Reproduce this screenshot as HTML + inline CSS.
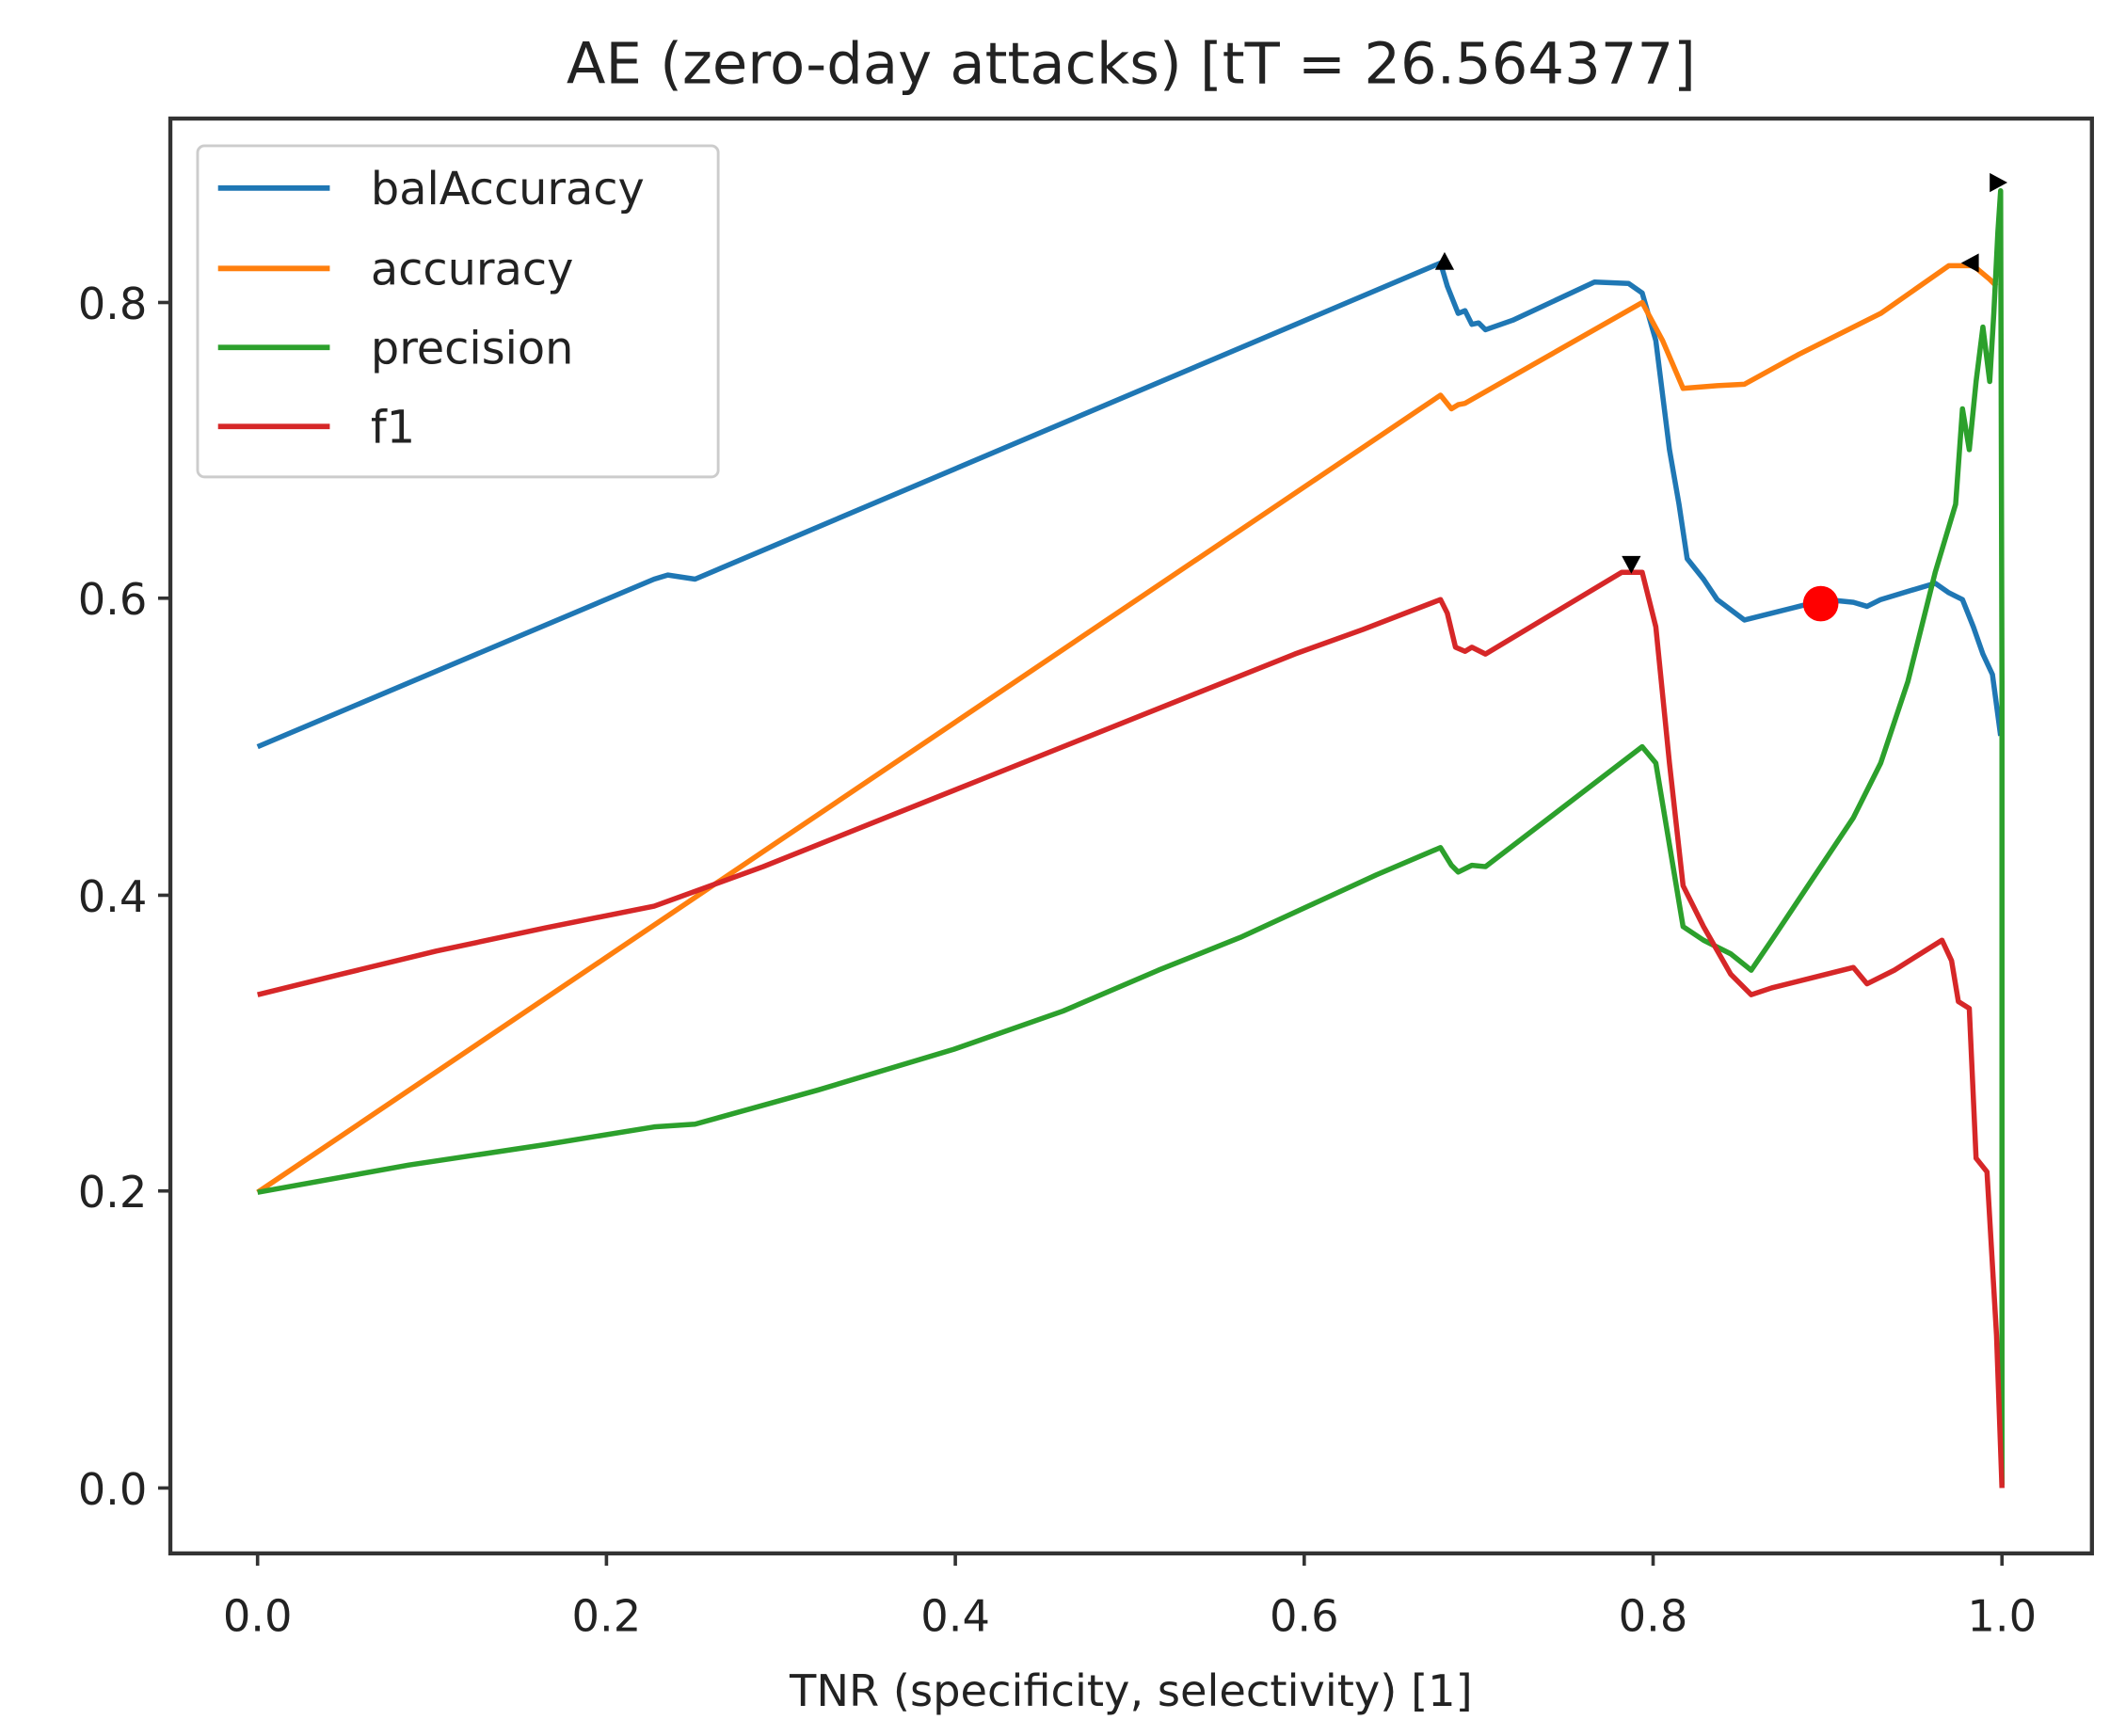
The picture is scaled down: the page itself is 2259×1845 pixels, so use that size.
<!DOCTYPE html>
<html><head><meta charset="utf-8"><style>
html,body{margin:0;padding:0;background:#fff}
svg{display:block}
text{font-family:"DejaVu Sans","Liberation Sans",sans-serif;fill:#222}
</style></head><body>
<svg width="2259" height="1845" viewBox="0 0 1560 1274" preserveAspectRatio="none">
<rect width="1560" height="1274" fill="#fff"/>
<text x="830" y="61" font-size="42" text-anchor="middle">AE (zero-day attacks) [tT = 26.564377]</text>
<rect x="125" y="87" width="1410" height="1053" fill="none" stroke="#333" stroke-width="3"/>
<g stroke="#333" stroke-width="2.5">
<line x1="189" y1="1140" x2="189" y2="1149"/><line x1="445" y1="1140" x2="445" y2="1149"/><line x1="701" y1="1140" x2="701" y2="1149"/><line x1="957" y1="1140" x2="957" y2="1149"/><line x1="1213" y1="1140" x2="1213" y2="1149"/><line x1="1469" y1="1140" x2="1469" y2="1149"/>
<line x1="116" y1="1092" x2="125" y2="1092"/><line x1="116" y1="874" x2="125" y2="874"/><line x1="116" y1="657" x2="125" y2="657"/><line x1="116" y1="439" x2="125" y2="439"/><line x1="116" y1="222" x2="125" y2="222"/>
</g>
<g font-size="32" text-anchor="middle">
<text x="189" y="1197">0.0</text><text x="445" y="1197">0.2</text><text x="701" y="1197">0.4</text><text x="957" y="1197">0.6</text><text x="1213" y="1197">0.8</text><text x="1469" y="1197">1.0</text>
</g>
<g font-size="32" text-anchor="end">
<text x="108" y="1104">0.0</text><text x="108" y="886">0.2</text><text x="108" y="669">0.4</text><text x="108" y="451">0.6</text><text x="108" y="234">0.8</text>
</g>
<text x="830" y="1252" font-size="32" text-anchor="middle">TNR (specificity, selectivity) [1]</text>
<g fill="none" stroke-width="3.8" stroke-linejoin="round">
<polyline stroke="#1f77b4" points="189,548 480,425 490,422 510,425 1057,193 1062,210 1070,230 1075,228 1080,238 1085,237 1090,242 1110,235 1170,207 1195,208 1205,215 1215,250 1225,330 1232,370 1238,410 1250,425 1260,440 1280,455 1300,450 1320,445 1340,440 1360,442 1370,445 1380,440 1420,428 1430,435 1440,440 1448,460 1455,480 1462,495 1468,540"/>
<polyline stroke="#ff7f0e" points="189,875 1057,290 1065,300 1070,297 1075,296 1205,222 1220,250 1235,285 1260,283 1280,282 1320,260 1380,230 1430,195 1448,195 1460,205 1465,210"/>
<polyline stroke="#2ca02c" points="189,875 300,855 400,840 480,827 510,825 600,800 700,770 780,742 850,712 910,688 960,665 1010,642 1057,622 1065,635 1070,640 1080,635 1090,636 1205,548 1215,560 1225,620 1235,680 1250,690 1270,700 1285,712 1300,690 1330,645 1360,600 1380,560 1400,500 1420,420 1435,370 1440,300 1445,330 1450,280 1455,240 1460,280 1463,230 1466,170 1468,140 1469,500 1469,1090"/>
<polyline stroke="#d62728" points="189,730 250,715 320,698 400,681 480,665 560,636 640,604 720,572 800,540 880,508 950,480 1000,462 1057,440 1062,450 1068,475 1075,478 1080,475 1090,480 1190,420 1205,420 1215,460 1225,560 1235,650 1250,680 1270,715 1285,730 1300,725 1340,715 1360,710 1370,722 1390,712 1425,690 1432,705 1437,735 1445,740 1450,850 1458,860 1465,980 1469,1092"/>
</g>
<circle cx="1336" cy="443" r="13" fill="#ff0000"/>
<g fill="#000">
<polygon points="1060,185 1053,198 1067,198"/>
<polygon points="1197,421 1190,408 1204,408"/>
<polygon points="1439,193 1452,186 1452,200"/>
<polygon points="1473,134 1460,127 1460,141"/>
</g>
<rect x="145" y="107" width="382" height="243" rx="5" fill="#fff" fill-opacity="0.85" stroke="#ccc" stroke-width="2"/>
<g stroke-width="4">
<line x1="160" y1="138" x2="242" y2="138" stroke="#1f77b4"/>
<line x1="160" y1="197" x2="242" y2="197" stroke="#ff7f0e"/>
<line x1="160" y1="255" x2="242" y2="255" stroke="#2ca02c"/>
<line x1="160" y1="313" x2="242" y2="313" stroke="#d62728"/>
</g>
<g font-size="33">
<text x="272" y="150">balAccuracy</text>
<text x="272" y="209">accuracy</text>
<text x="272" y="267">precision</text>
<text x="272" y="325">f1</text>
</g>
</svg>
</body></html>
